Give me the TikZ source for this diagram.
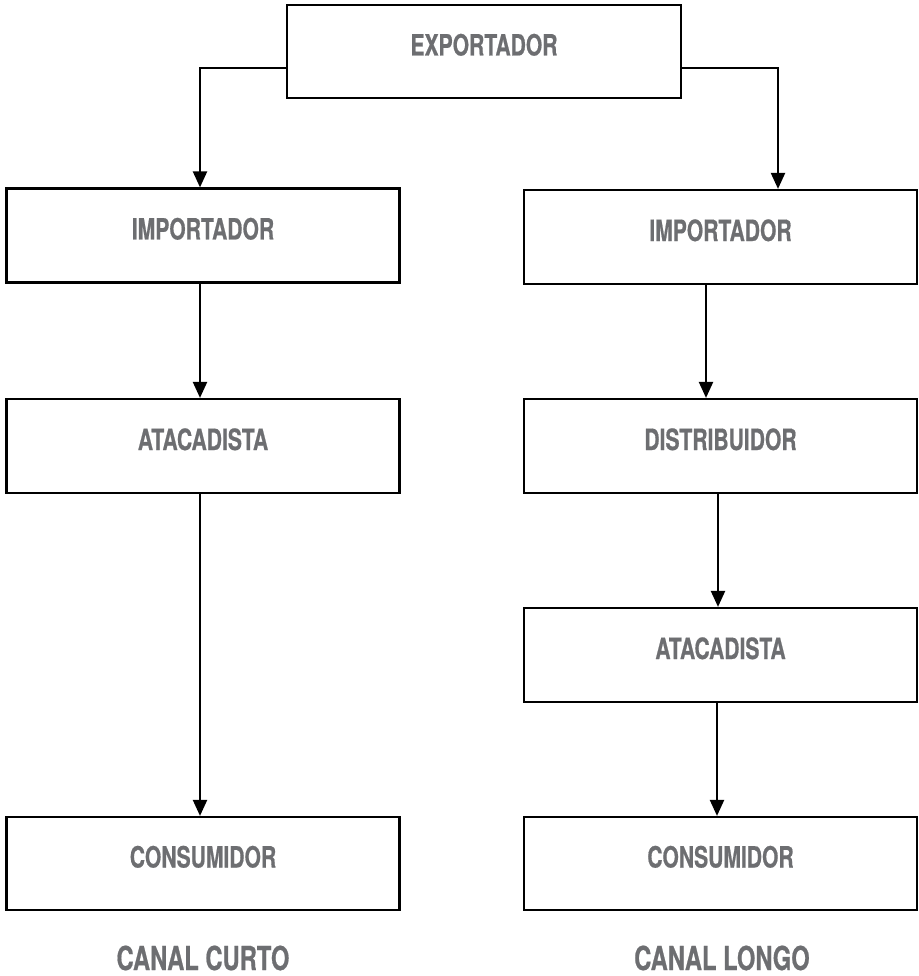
\documentclass[tikz,border=0pt]{standalone}
\usepackage{fontspec}
\newfontfamily\condfont{TeX Gyre Heros}[FakeStretch=0.72, FakeBold=0.6]
\usetikzlibrary{arrows.meta}
\definecolor{labelgray}{HTML}{6D6E71}
\tikzset{
  stage/.style={draw=black, line width=2.2pt, inner sep=0pt,
    minimum width=393pt, minimum height=94pt,
    font=\condfont\bfseries\fontsize{29.3}{32}\selectfont, text=labelgray,
    text height=21pt, text depth=13pt},
  flow/.style={line width=2.2pt, -{Triangle[width=14pt,length=16pt]}},
  caption/.style={anchor=base, inner sep=0pt,
    font=\condfont\bfseries\fontsize{33}{36}\selectfont, text=labelgray}
}
\begin{document}
\begin{tikzpicture}[x=1pt,y=-1pt]
  \useasboundingbox (0,0) rectangle (918,976);

  % source
  \node[stage, minimum width=394pt, minimum height=93pt] (exp) at (484,51.5) {EXPORTADOR};

  % short channel
  \node[stage] (li) at (203,235.5) {IMPORTADOR};
  \node[stage] (la) at (203,446) {ATACADISTA};
  \node[stage, minimum height=93pt] (lc) at (203,863.5) {CONSUMIDOR};

  % long channel
  \node[stage] (ri) at (720.5,237) {IMPORTADOR};
  \node[stage] (rd) at (720.5,446) {DISTRIBUIDOR};
  \node[stage] (ra) at (720.5,655) {ATACADISTA};
  \node[stage, minimum height=93pt] (rc) at (720.5,863.5) {CONSUMIDOR};

  % channel captions
  \node[caption] (curto) at (203,970) {CANAL CURTO};
  \node[caption] (longo) at (722,970) {CANAL LONGO};

  % connectors
  \draw[flow] ([yshift=-16.5pt]exp.west) -| ([xshift=-3pt]li.north);
  \draw[flow] ([yshift=-16.5pt]exp.east) -| ([xshift=57.5pt]ri.north);
  \draw[flow] ([xshift=-3pt]li.south) -- ([xshift=-3pt]la.north);
  \draw[flow] ([xshift=-3pt]la.south) -- ([xshift=-3pt]lc.north);
  \draw[flow] ([xshift=-14.5pt]ri.south) -- ([xshift=-14.5pt]rd.north);
  \draw[flow] ([xshift=-2.5pt]rd.south) -- ([xshift=-2.5pt]ra.north);
  \draw[flow] ([xshift=-3.5pt]ra.south) -- ([xshift=-3.5pt]rc.north);
\end{tikzpicture}
\end{document}
